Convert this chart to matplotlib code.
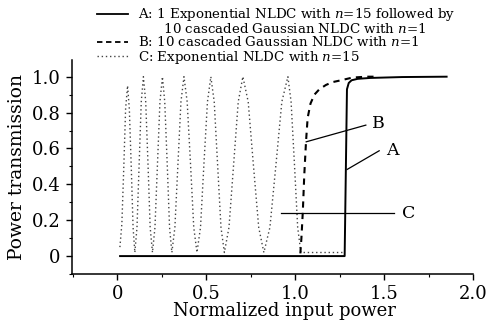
import numpy as np
import matplotlib
matplotlib.use("Agg")
import matplotlib.pyplot as plt
from matplotlib.lines import Line2D
from matplotlib.ticker import MultipleLocator

plt.rcParams['font.family'] = 'DejaVu Serif'
plt.rcParams['mathtext.fontset'] = 'dejavuserif'

# --- data ---

# A: 1 exponential NLDC (n=15) + 10 cascaded Gaussian NLDC (n=1)
a_x = [0.015, 1.277, 1.284, 1.290, 1.300, 1.316, 1.350, 1.420, 1.600, 1.850]
a_y = [0.0, 0.0, 0.50, 0.93, 0.965, 0.980, 0.988, 0.993, 0.998, 1.0]

# B: 10 cascaded Gaussian NLDC (n=1)
b_x = [1.028, 1.034, 1.042, 1.050, 1.060, 1.069, 1.085, 1.107, 1.135,
       1.172, 1.210, 1.257, 1.320, 1.400, 1.450]
b_y = [0.015, 0.10, 0.25, 0.45, 0.64, 0.77, 0.85, 0.90, 0.93,
       0.954, 0.97, 0.98, 0.995, 1.0, 1.0]

# C: exponential NLDC (n=15), oscillating transmission
c_x = [0.014, 0.025, 0.036, 0.046, 0.057,
       0.067, 0.078, 0.088, 0.098,
       0.110, 0.122, 0.134, 0.146,
       0.159, 0.172, 0.184, 0.197,
       0.211, 0.225, 0.239, 0.253,
       0.266, 0.280, 0.293, 0.306,
       0.323, 0.340, 0.357, 0.374,
       0.392, 0.411, 0.429, 0.447,
       0.467, 0.486, 0.506, 0.525,
       0.544, 0.563, 0.582, 0.601,
       0.627, 0.653, 0.679, 0.705,
       0.735, 0.764, 0.794, 0.823,
       0.857, 0.891, 0.924, 0.958,
       0.976, 0.995, 1.013, 1.031,
       1.267]
c_y = [0.05, 0.18, 0.50, 0.82, 0.95,
       0.82, 0.49, 0.16, 0.02,
       0.16, 0.51, 0.86, 1.0,
       0.86, 0.51, 0.16, 0.02,
       0.16, 0.51, 0.86, 1.0,
       0.86, 0.51, 0.16, 0.02,
       0.16, 0.51, 0.86, 1.0,
       0.86, 0.51, 0.16, 0.02,
       0.16, 0.51, 0.86, 1.0,
       0.86, 0.51, 0.16, 0.02,
       0.16, 0.51, 0.86, 1.0,
       0.86, 0.51, 0.16, 0.02,
       0.16, 0.51, 0.86, 1.0,
       0.86, 0.51, 0.16, 0.02,
       0.02]

x_ticks = [0, 0.5, 1.0, 1.5, 2.0]
x_tick_labels = ['0', '0.5', '1.0', '1.5', '2.0']
y_ticks = [0, 0.2, 0.4, 0.6, 0.8, 1.0]
y_tick_labels = ['0', '0.2', '0.4', '0.6', '0.8', '1.0']

legend_labels = [
    'A: 1 Exponential NLDC with $n$=15 followed by',
    '      10 cascaded Gaussian NLDC with $n$=1',
    'B: 10 cascaded Gaussian NLDC with $n$=1',
    'C: Exponential NLDC with $n$=15',
]

# --- figure ---

fig = plt.figure(figsize=(4.92, 3.27), dpi=100)
ax = fig.add_axes([0.1457, 0.162, 0.962 - 0.1457, 0.8165 - 0.162])

ax.plot(c_x, c_y, color='#444444', lw=1.0, linestyle=(0, (1, 2)))
ax.plot(b_x, b_y, color='black', lw=1.5, linestyle=(0, (3, 2.5)))
ax.plot(a_x, a_y, color='black', lw=1.4)

# callouts
ax.plot([1.061, 1.396], [0.637, 0.73], color='black', lw=0.9)
ax.text(1.43, 0.74, 'B', fontsize=12.5, va='center', ha='left')
ax.plot([1.291, 1.471], [0.483, 0.587], color='black', lw=0.9)
ax.text(1.51, 0.59, 'A', fontsize=12.5, va='center', ha='left')
ax.plot([0.917, 1.553], [0.24, 0.24], color='black', lw=0.9)
ax.text(1.60, 0.24, 'C', fontsize=12.5, va='center', ha='left')

ax.set_xlim(-0.257, 2.0)
ax.set_ylim(-0.1, 1.093)
ax.set_xticks(x_ticks)
ax.set_xticklabels(x_tick_labels)
ax.set_yticks(y_ticks)
ax.set_yticklabels(y_tick_labels)
ax.xaxis.set_minor_locator(MultipleLocator(0.25))
ax.yaxis.set_minor_locator(MultipleLocator(0.1))
ax.tick_params(which='major', direction='out', length=4, width=1, labelsize=13, pad=4)
ax.tick_params(which='minor', direction='out', length=2.5, width=0.8)

for side in ['top', 'right']:
    ax.spines[side].set_visible(False)
for side in ['left', 'bottom']:
    ax.spines[side].set_linewidth(1.1)

ax.set_xlabel('Normalized input power', fontsize=13, labelpad=2)
ax.xaxis.set_label_coords(0.53, -0.13)
ax.set_ylabel('Power transmission', fontsize=13.5, labelpad=4)

# legend drawn by hand, above the axes
def fx(px):
    return px / 492.0

def fy(py):
    return 1 - py / 327.0

line_styles = [dict(color='black', lw=1.3),
               dict(color='black', lw=1.3, linestyle=(0, (3, 2))),
               dict(color='#444444', lw=1.0, linestyle=(0, (1, 2)))]
rows_py = [14, 28, 42, 56]
handle_rows = [0, 2, 3]
for style, row in zip(line_styles, handle_rows):
    fig.add_artist(Line2D([fx(97), fx(128)], [fy(rows_py[row])] * 2, **style))

fig.text(fx(138), fy(6), '\n'.join(legend_labels), fontsize=9.6,
         va='top', ha='left', linespacing=0.93)

fig.savefig('out.png', dpi=100)
